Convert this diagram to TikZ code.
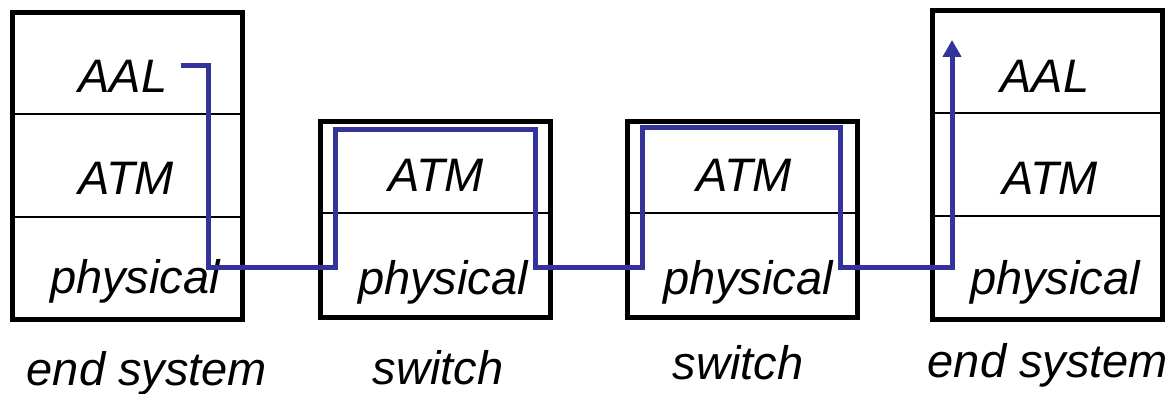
\documentclass[tikz,border=0pt]{standalone}
\usepackage{fontspec}
\setmainfont{Liberation Sans}
\usepackage{tikz}
\usetikzlibrary{arrows.meta}
\definecolor{linkblue}{RGB}{51,51,153}

\begin{document}
\begin{tikzpicture}[
    x=0.5pt, y=-0.5pt,
    every node/.style={font=\fontsize{23.5}{28}\selectfont\itshape},
    stack/.style={rectangle, draw=black, line width=2.5pt, inner sep=0pt, minimum width=115pt},
    layer/.style={anchor=base, inner sep=0pt},
    divider/.style={line width=0.75pt},
    arrow/.style={-{Triangle[length=8.5pt, width=9pt]}, draw=linkblue, line width=2.5pt}
]
\useasboundingbox (0,0) rectangle (1176,394);

% Boxes
\node[stack, minimum height=153.75pt] (es1) at (127,166) {};
\node[stack, minimum height=98pt] (sw1) at (435,220) {};
\node[stack, minimum height=98pt] (sw2) at (742,220) {};
\node[stack, minimum height=154.5pt] (es2) at (1047,165.5) {};

% Layers
\node[layer] (aal1) at (123,93) {AAL};
\node[layer] (atm1) at (126,195) {ATM};
\node[layer] (phy1) at (135,294) {physical};
\node[layer] (atm2) at (436,192) {ATM};
\node[layer] (phy2) at (443,295) {physical};
\node[layer] (atm3) at (744,192) {ATM};
\node[layer] (phy3) at (748,295) {physical};
\node[layer] (aal4) at (1045,93) {AAL};
\node[layer] (atm4) at (1050,195) {ATM};
\node[layer] (phy4) at (1055,295) {physical};

% Captions
\node[layer] (cap1) at (147,386) {end system};
\node[layer] (cap2) at (438,385) {switch};
\node[layer] (cap3) at (738,380) {switch};
\node[layer] (cap4) at (1048,378) {end system};

% Dividers
\draw[divider] (es1.west |- 0,114) -- (es1.east |- 0,114);
\draw[divider] (es1.west |- 0,217) -- (es1.east |- 0,217);
\draw[divider] (sw1.west |- 0,213) -- (sw1.east |- 0,213);
\draw[divider] (sw2.west |- 0,213) -- (sw2.east |- 0,213);
\draw[divider] (es2.west |- 0,113) -- (es2.east |- 0,113);
\draw[divider] (es2.west |- 0,216) -- (es2.east |- 0,216);

% Route
\coordinate (src) at (181,65.5);
\coordinate (dst) at (952,40);
\draw[arrow] (src) -| (208,268) -| (335,130) -| (535,268) -| (642,128) -| (840,268) -| (dst);

\end{tikzpicture}
\end{document}
